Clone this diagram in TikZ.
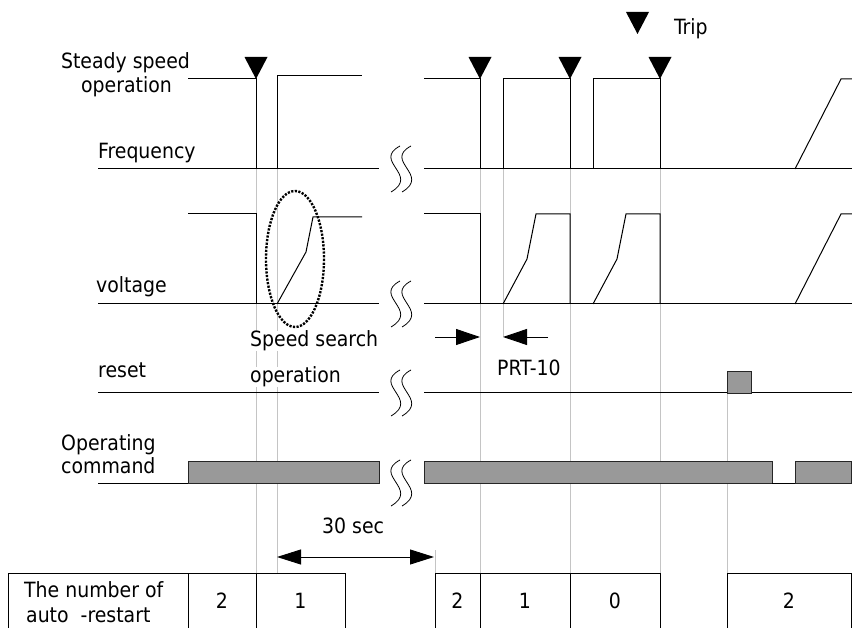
\documentclass[tikz,border=0pt]{standalone}
\usepackage{fontspec}
\setmainfont{DejaVu Sans Condensed}
\usepackage{tikz}
\usetikzlibrary{arrows.meta,positioning}
\definecolor{BarGray}{RGB}{153,153,153}
\definecolor{GuideGray}{RGB}{196,196,196}

\begin{document}
\begin{tikzpicture}[
  x=1pt, y=-1pt,
  wave/.style={line width=1pt, black},
  guide/.style={line width=0.8pt, GuideGray},
  bar/.style={draw=black!85, fill=BarGray, line width=0.9pt},
  brk/.style={line width=0.8pt},
  dim/.style={-{Triangle[length=24pt,width=16pt]}, line width=0.9pt},
  dimboth/.style={{Triangle[length=24pt,width=15pt]}-{Triangle[length=24pt,width=15pt]}, line width=0.9pt},
  lbl/.style={anchor=base west, inner sep=0pt},
  cnt/.style={anchor=base, inner sep=0pt},
  font=\fontsize{21}{24}\selectfont
]
\useasboundingbox (0,0) rectangle (852,628);
\clip (0,0) rectangle (852,628);

% guide lines
\draw[guide] (256,169) -- (256,573);
\draw[guide] (277,169) -- (277,573);
\draw[guide] (480,169) -- (480,573);
\draw[guide] (503,169) -- (503,337);
\draw[guide] (570,169) -- (570,573);
\draw[guide] (660,169) -- (660,573);
\draw[guide] (727,393) -- (727,573);
\draw[guide] (435,550) -- (435,573);

% labels
\node[cnt] (steadyA) at (125.5,69) {Steady speed};
\node[cnt] (steadyB) at (126.5,93) {operation};
\node[lbl] (freq) at (98,159) {Frequency};
\node[lbl] (volt) at (96,293) {voltage};
\node[lbl, fill=white] (search) at (250,347) {Speed search};
\node[lbl, fill=white] (searchB) at (250,383) {operation};
\node[lbl] (reset) at (98,378) {reset};
\node[lbl] (opA) at (61,450) {Operating};
\node[lbl] (opB) at (61,473) {command};
\node[lbl] (trip) at (674,35) {Trip};
\node[lbl] (prt) at (497,376) {PRT-10};
\node[lbl] (sec) at (322,533) {30 sec};

% frequency
\draw[wave] (98,169) -- (379,169);
\draw[wave] (424,169) -- (852,169);
\draw[wave] (188,79) -- (256,79) -- (256,169);
\draw[wave] (277,169) -- (277,76) -- (362,76);
\draw[wave] (424,79) -- (480,79) -- (480,169);
\draw[wave] (503,169) -- (503,79) -- (570,79) -- (570,169);
\draw[wave] (593,169) -- (593,79) -- (660,79) -- (660,169);
\draw[wave] (795,169) -- (841,79) -- (852,79);
\foreach \tx in {256,480,570,660}
  \fill (\tx,79) -- (\tx-11.5,57) -- (\tx+11.5,57) -- cycle;
\fill (637.5,34) -- (626,12) -- (649,12) -- cycle;

% voltage
\draw[wave] (98,304) -- (379,304);
\draw[wave] (424,304) -- (852,304);
\draw[wave] (188,214) -- (256,214) -- (256,304);
\draw[wave] (277,304) -- (306,252) -- (313,217) -- (362,217);
\draw[wave] (424,214) -- (480,214) -- (480,304);
\draw[wave] (503,304) -- (527,259) -- (536,214) -- (570,214) -- (570,304);
\draw[wave] (593,304) -- (617,259) -- (626,214) -- (660,214) -- (660,304);
\draw[wave] (795,304) -- (841,214) -- (852,214);
\draw[line width=2.4pt, dash pattern=on 2.2pt off 1.4pt] (295,259) ellipse [x radius=29, y radius=68];

% reset
\draw[wave] (98,393) -- (379,393);
\draw[wave] (424,393) -- (852,393);
\draw[bar] (727,371) rectangle (751,393);

% operating command
\draw[wave] (98,483) -- (188,483);
\draw[bar] (188,461) rectangle (379,483);
\draw[bar] (424,461) rectangle (772,483);
\draw[wave] (772,483) -- (795,483);
\draw[bar] (795,461) rectangle (851,483);

% breaks
\foreach \by in {169,304,393,483}
  \foreach \dx in {0,11}
    \draw[brk] (400+\dx,\by-23) .. controls (372+\dx,\by-8) and (420+\dx,\by+6) .. (391+\dx,\by+23);

% intervals
\coordinate (prtA) at (435,337);
\coordinate (prtB) at (480,337);
\coordinate (prtC) at (548,337);
\coordinate (prtD) at (503,337);
\draw[dim] (prtA) -- (prtB);
\draw[dim] (prtC) -- (prtD);
\coordinate (secA) at (277,557);
\coordinate (secB) at (434,557);
\draw[dimboth] (secA) -- (secB);

% restart count table
\draw[wave] (8,640) |- (345,573) -- (345,640);
\draw[wave] (188,573) -- (188,640);
\draw[wave] (256,573) -- (256,640);
\draw[wave] (435,640) |- (660,573) -- (660,640);
\draw[wave] (480,573) -- (480,640);
\draw[wave] (570,573) -- (570,640);
\draw[wave] (727,640) |- (851,573) -- (851,640);
\node[lbl] (numA) at (24,597) {The number of};
\node[lbl] (numB) at (26,622) {auto~~-restart};
\node[cnt] (cntA) at (222,608) {2};
\node[cnt] (cntB) at (300.5,608) {1};
\node[cnt] (cntC) at (457.5,608) {2};
\node[cnt] (cntD) at (525,608) {1};
\node[cnt] (cntE) at (615,608) {0};
\node[cnt] (cntF) at (789,608) {2};
\end{tikzpicture}
\end{document}
